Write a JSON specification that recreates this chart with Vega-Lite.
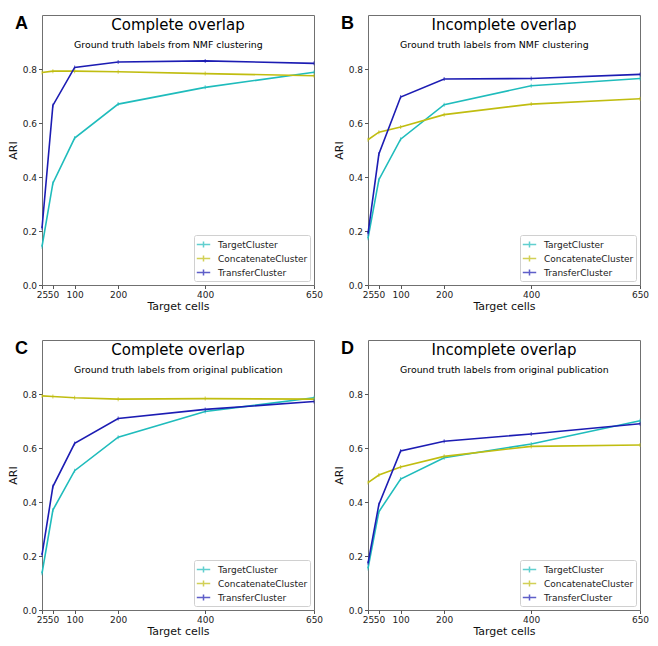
{
  "$schema": "https://vega.github.io/schema/vega-lite/v6.json",
  "background": "white",
  "padding": {"left": 6, "top": 14, "right": 5, "bottom": 5},
  "datasets": {
    "series": [
      {"panel": "A", "method": "TargetCluster", "cells": 25, "ari": 0.142},
      {"panel": "A", "method": "TargetCluster", "cells": 50, "ari": 0.377},
      {"panel": "A", "method": "TargetCluster", "cells": 100, "ari": 0.544},
      {"panel": "A", "method": "TargetCluster", "cells": 200, "ari": 0.670},
      {"panel": "A", "method": "TargetCluster", "cells": 400, "ari": 0.732},
      {"panel": "A", "method": "TargetCluster", "cells": 650, "ari": 0.788},
      {"panel": "A", "method": "ConcatenateCluster", "cells": 25, "ari": 0.787},
      {"panel": "A", "method": "ConcatenateCluster", "cells": 50, "ari": 0.792},
      {"panel": "A", "method": "ConcatenateCluster", "cells": 100, "ari": 0.792},
      {"panel": "A", "method": "ConcatenateCluster", "cells": 200, "ari": 0.790},
      {"panel": "A", "method": "ConcatenateCluster", "cells": 400, "ari": 0.783},
      {"panel": "A", "method": "ConcatenateCluster", "cells": 650, "ari": 0.775},
      {"panel": "A", "method": "TransferCluster", "cells": 25, "ari": 0.21},
      {"panel": "A", "method": "TransferCluster", "cells": 50, "ari": 0.665},
      {"panel": "A", "method": "TransferCluster", "cells": 100, "ari": 0.806},
      {"panel": "A", "method": "TransferCluster", "cells": 200, "ari": 0.826},
      {"panel": "A", "method": "TransferCluster", "cells": 400, "ari": 0.830},
      {"panel": "A", "method": "TransferCluster", "cells": 650, "ari": 0.821},
      {"panel": "B", "method": "TargetCluster", "cells": 25, "ari": 0.173},
      {"panel": "B", "method": "TargetCluster", "cells": 50, "ari": 0.39},
      {"panel": "B", "method": "TargetCluster", "cells": 100, "ari": 0.540},
      {"panel": "B", "method": "TargetCluster", "cells": 200, "ari": 0.668},
      {"panel": "B", "method": "TargetCluster", "cells": 400, "ari": 0.738},
      {"panel": "B", "method": "TargetCluster", "cells": 650, "ari": 0.765},
      {"panel": "B", "method": "ConcatenateCluster", "cells": 25, "ari": 0.538},
      {"panel": "B", "method": "ConcatenateCluster", "cells": 50, "ari": 0.566},
      {"panel": "B", "method": "ConcatenateCluster", "cells": 100, "ari": 0.585},
      {"panel": "B", "method": "ConcatenateCluster", "cells": 200, "ari": 0.631},
      {"panel": "B", "method": "ConcatenateCluster", "cells": 400, "ari": 0.670},
      {"panel": "B", "method": "ConcatenateCluster", "cells": 650, "ari": 0.690},
      {"panel": "B", "method": "TransferCluster", "cells": 25, "ari": 0.19},
      {"panel": "B", "method": "TransferCluster", "cells": 50, "ari": 0.485},
      {"panel": "B", "method": "TransferCluster", "cells": 100, "ari": 0.696},
      {"panel": "B", "method": "TransferCluster", "cells": 200, "ari": 0.763},
      {"panel": "B", "method": "TransferCluster", "cells": 400, "ari": 0.765},
      {"panel": "B", "method": "TransferCluster", "cells": 650, "ari": 0.780},
      {"panel": "C", "method": "TargetCluster", "cells": 25, "ari": 0.136},
      {"panel": "C", "method": "TargetCluster", "cells": 50, "ari": 0.370},
      {"panel": "C", "method": "TargetCluster", "cells": 100, "ari": 0.516},
      {"panel": "C", "method": "TargetCluster", "cells": 200, "ari": 0.640},
      {"panel": "C", "method": "TargetCluster", "cells": 400, "ari": 0.735},
      {"panel": "C", "method": "TargetCluster", "cells": 650, "ari": 0.786},
      {"panel": "C", "method": "ConcatenateCluster", "cells": 25, "ari": 0.793},
      {"panel": "C", "method": "ConcatenateCluster", "cells": 50, "ari": 0.791},
      {"panel": "C", "method": "ConcatenateCluster", "cells": 100, "ari": 0.786},
      {"panel": "C", "method": "ConcatenateCluster", "cells": 200, "ari": 0.781},
      {"panel": "C", "method": "ConcatenateCluster", "cells": 400, "ari": 0.783},
      {"panel": "C", "method": "ConcatenateCluster", "cells": 650, "ari": 0.781},
      {"panel": "C", "method": "TransferCluster", "cells": 25, "ari": 0.204},
      {"panel": "C", "method": "TransferCluster", "cells": 50, "ari": 0.457},
      {"panel": "C", "method": "TransferCluster", "cells": 100, "ari": 0.617},
      {"panel": "C", "method": "TransferCluster", "cells": 200, "ari": 0.709},
      {"panel": "C", "method": "TransferCluster", "cells": 400, "ari": 0.743},
      {"panel": "C", "method": "TransferCluster", "cells": 650, "ari": 0.772},
      {"panel": "D", "method": "TargetCluster", "cells": 25, "ari": 0.154},
      {"panel": "D", "method": "TargetCluster", "cells": 50, "ari": 0.364},
      {"panel": "D", "method": "TargetCluster", "cells": 100, "ari": 0.485},
      {"panel": "D", "method": "TargetCluster", "cells": 200, "ari": 0.564},
      {"panel": "D", "method": "TargetCluster", "cells": 400, "ari": 0.615},
      {"panel": "D", "method": "TargetCluster", "cells": 650, "ari": 0.701},
      {"panel": "D", "method": "ConcatenateCluster", "cells": 25, "ari": 0.472},
      {"panel": "D", "method": "ConcatenateCluster", "cells": 50, "ari": 0.500},
      {"panel": "D", "method": "ConcatenateCluster", "cells": 100, "ari": 0.530},
      {"panel": "D", "method": "ConcatenateCluster", "cells": 200, "ari": 0.569},
      {"panel": "D", "method": "ConcatenateCluster", "cells": 400, "ari": 0.606},
      {"panel": "D", "method": "ConcatenateCluster", "cells": 650, "ari": 0.611},
      {"panel": "D", "method": "TransferCluster", "cells": 25, "ari": 0.173},
      {"panel": "D", "method": "TransferCluster", "cells": 50, "ari": 0.391},
      {"panel": "D", "method": "TransferCluster", "cells": 100, "ari": 0.589},
      {"panel": "D", "method": "TransferCluster", "cells": 200, "ari": 0.625},
      {"panel": "D", "method": "TransferCluster", "cells": 400, "ari": 0.652},
      {"panel": "D", "method": "TransferCluster", "cells": 650, "ari": 0.690}
    ],
    "panels": [
      {"panel": "A", "letter": "A", "title": "Complete overlap", "subtitle": "Ground truth labels from NMF clustering"},
      {"panel": "B", "letter": "B", "title": "Incomplete overlap", "subtitle": "Ground truth labels from NMF clustering"},
      {"panel": "C", "letter": "C", "title": "Complete overlap", "subtitle": "Ground truth labels from original publication"},
      {"panel": "D", "letter": "D", "title": "Incomplete overlap", "subtitle": "Ground truth labels from original publication"}
    ]
  },
  "concat": [
    {
      "width": 272, "height": 270,
      "layer": [
        {"data": {"name": "series"}, "transform": [{"filter": "datum.panel === 'A'"}],
         "mark": {"type": "line", "strokeWidth": 1.6},
         "encoding": {
           "x": {"field": "cells", "type": "quantitative", "scale": {"domain": [25, 650], "nice": false, "zero": false}, "axis": {"values": [25, 50, 100, 200, 400, 650], "title": "Target cells"}},
           "y": {"field": "ari", "type": "quantitative", "scale": {"domain": [0, 1], "nice": false}, "axis": {"values": [0, 0.2, 0.4, 0.6, 0.8], "format": ".1f", "title": "ARI"}},
           "color": {"field": "method", "type": "nominal", "scale": {"domain": ["TargetCluster", "ConcatenateCluster", "TransferCluster"], "range": ["#1fbcbc", "#c0bd10", "#1c1cb3"]}}
         }},
        {"data": {"name": "series"}, "transform": [{"filter": "datum.panel === 'A'"}],
         "mark": {"type": "tick", "orient": "vertical", "size": 4, "thickness": 1},
         "encoding": {
           "x": {"field": "cells", "type": "quantitative"},
           "y": {"field": "ari", "type": "quantitative"},
           "color": {"field": "method", "type": "nominal"}
         }},
        {"data": {"name": "panels"}, "transform": [{"filter": "datum.panel === 'A'"}],
         "mark": {"type": "text", "font": "DejaVu Sans", "fontSize": 15, "align": "center", "baseline": "alphabetic"},
         "encoding": {"x": {"datum": 337.5, "type": "quantitative"}, "y": {"datum": 0.944, "type": "quantitative"}, "text": {"field": "title"}}},
        {"data": {"name": "panels"}, "transform": [{"filter": "datum.panel === 'A'"}],
         "mark": {"type": "text", "font": "DejaVu Sans", "fontSize": 9.4, "align": "left", "baseline": "alphabetic"},
         "encoding": {"x": {"datum": 98.5, "type": "quantitative"}, "y": {"datum": 0.878, "type": "quantitative"}, "text": {"field": "subtitle"}}},
        {"data": {"name": "panels"}, "transform": [{"filter": "datum.panel === 'A'"}],
         "mark": {"type": "text", "font": "Liberation Sans", "fontWeight": "bold", "fontSize": 18, "align": "left", "baseline": "alphabetic", "dx": -27, "dy": 14},
         "encoding": {"x": {"datum": 25, "type": "quantitative"}, "y": {"datum": 1, "type": "quantitative"}, "text": {"field": "letter"}}}
      ]
    },
    {
      "width": 272, "height": 270,
      "layer": [
        {"data": {"name": "series"}, "transform": [{"filter": "datum.panel === 'B'"}],
         "mark": {"type": "line", "strokeWidth": 1.6},
         "encoding": {
           "x": {"field": "cells", "type": "quantitative", "scale": {"domain": [25, 650], "nice": false, "zero": false}, "axis": {"values": [25, 50, 100, 200, 400, 650], "title": "Target cells"}},
           "y": {"field": "ari", "type": "quantitative", "scale": {"domain": [0, 1], "nice": false}, "axis": {"values": [0, 0.2, 0.4, 0.6, 0.8], "format": ".1f", "title": "ARI"}},
           "color": {"field": "method", "type": "nominal", "scale": {"domain": ["TargetCluster", "ConcatenateCluster", "TransferCluster"], "range": ["#1fbcbc", "#c0bd10", "#1c1cb3"]}}
         }},
        {"data": {"name": "series"}, "transform": [{"filter": "datum.panel === 'B'"}],
         "mark": {"type": "tick", "orient": "vertical", "size": 4, "thickness": 1},
         "encoding": {
           "x": {"field": "cells", "type": "quantitative"},
           "y": {"field": "ari", "type": "quantitative"},
           "color": {"field": "method", "type": "nominal"}
         }},
        {"data": {"name": "panels"}, "transform": [{"filter": "datum.panel === 'B'"}],
         "mark": {"type": "text", "font": "DejaVu Sans", "fontSize": 15, "align": "center", "baseline": "alphabetic"},
         "encoding": {"x": {"datum": 337.5, "type": "quantitative"}, "y": {"datum": 0.944, "type": "quantitative"}, "text": {"field": "title"}}},
        {"data": {"name": "panels"}, "transform": [{"filter": "datum.panel === 'B'"}],
         "mark": {"type": "text", "font": "DejaVu Sans", "fontSize": 9.4, "align": "left", "baseline": "alphabetic"},
         "encoding": {"x": {"datum": 98.5, "type": "quantitative"}, "y": {"datum": 0.878, "type": "quantitative"}, "text": {"field": "subtitle"}}},
        {"data": {"name": "panels"}, "transform": [{"filter": "datum.panel === 'B'"}],
         "mark": {"type": "text", "font": "Liberation Sans", "fontWeight": "bold", "fontSize": 18, "align": "left", "baseline": "alphabetic", "dx": -27, "dy": 14},
         "encoding": {"x": {"datum": 25, "type": "quantitative"}, "y": {"datum": 1, "type": "quantitative"}, "text": {"field": "letter"}}}
      ]
    },
    {
      "width": 272, "height": 270,
      "layer": [
        {"data": {"name": "series"}, "transform": [{"filter": "datum.panel === 'C'"}],
         "mark": {"type": "line", "strokeWidth": 1.6},
         "encoding": {
           "x": {"field": "cells", "type": "quantitative", "scale": {"domain": [25, 650], "nice": false, "zero": false}, "axis": {"values": [25, 50, 100, 200, 400, 650], "title": "Target cells"}},
           "y": {"field": "ari", "type": "quantitative", "scale": {"domain": [0, 1], "nice": false}, "axis": {"values": [0, 0.2, 0.4, 0.6, 0.8], "format": ".1f", "title": "ARI"}},
           "color": {"field": "method", "type": "nominal", "scale": {"domain": ["TargetCluster", "ConcatenateCluster", "TransferCluster"], "range": ["#1fbcbc", "#c0bd10", "#1c1cb3"]}}
         }},
        {"data": {"name": "series"}, "transform": [{"filter": "datum.panel === 'C'"}],
         "mark": {"type": "tick", "orient": "vertical", "size": 4, "thickness": 1},
         "encoding": {
           "x": {"field": "cells", "type": "quantitative"},
           "y": {"field": "ari", "type": "quantitative"},
           "color": {"field": "method", "type": "nominal"}
         }},
        {"data": {"name": "panels"}, "transform": [{"filter": "datum.panel === 'C'"}],
         "mark": {"type": "text", "font": "DejaVu Sans", "fontSize": 15, "align": "center", "baseline": "alphabetic"},
         "encoding": {"x": {"datum": 337.5, "type": "quantitative"}, "y": {"datum": 0.944, "type": "quantitative"}, "text": {"field": "title"}}},
        {"data": {"name": "panels"}, "transform": [{"filter": "datum.panel === 'C'"}],
         "mark": {"type": "text", "font": "DejaVu Sans", "fontSize": 9.4, "align": "left", "baseline": "alphabetic"},
         "encoding": {"x": {"datum": 98.5, "type": "quantitative"}, "y": {"datum": 0.878, "type": "quantitative"}, "text": {"field": "subtitle"}}},
        {"data": {"name": "panels"}, "transform": [{"filter": "datum.panel === 'C'"}],
         "mark": {"type": "text", "font": "Liberation Sans", "fontWeight": "bold", "fontSize": 18, "align": "left", "baseline": "alphabetic", "dx": -27, "dy": 14},
         "encoding": {"x": {"datum": 25, "type": "quantitative"}, "y": {"datum": 1, "type": "quantitative"}, "text": {"field": "letter"}}}
      ]
    },
    {
      "width": 272, "height": 270,
      "layer": [
        {"data": {"name": "series"}, "transform": [{"filter": "datum.panel === 'D'"}],
         "mark": {"type": "line", "strokeWidth": 1.6},
         "encoding": {
           "x": {"field": "cells", "type": "quantitative", "scale": {"domain": [25, 650], "nice": false, "zero": false}, "axis": {"values": [25, 50, 100, 200, 400, 650], "title": "Target cells"}},
           "y": {"field": "ari", "type": "quantitative", "scale": {"domain": [0, 1], "nice": false}, "axis": {"values": [0, 0.2, 0.4, 0.6, 0.8], "format": ".1f", "title": "ARI"}},
           "color": {"field": "method", "type": "nominal", "scale": {"domain": ["TargetCluster", "ConcatenateCluster", "TransferCluster"], "range": ["#1fbcbc", "#c0bd10", "#1c1cb3"]}}
         }},
        {"data": {"name": "series"}, "transform": [{"filter": "datum.panel === 'D'"}],
         "mark": {"type": "tick", "orient": "vertical", "size": 4, "thickness": 1},
         "encoding": {
           "x": {"field": "cells", "type": "quantitative"},
           "y": {"field": "ari", "type": "quantitative"},
           "color": {"field": "method", "type": "nominal"}
         }},
        {"data": {"name": "panels"}, "transform": [{"filter": "datum.panel === 'D'"}],
         "mark": {"type": "text", "font": "DejaVu Sans", "fontSize": 15, "align": "center", "baseline": "alphabetic"},
         "encoding": {"x": {"datum": 337.5, "type": "quantitative"}, "y": {"datum": 0.944, "type": "quantitative"}, "text": {"field": "title"}}},
        {"data": {"name": "panels"}, "transform": [{"filter": "datum.panel === 'D'"}],
         "mark": {"type": "text", "font": "DejaVu Sans", "fontSize": 9.4, "align": "left", "baseline": "alphabetic"},
         "encoding": {"x": {"datum": 98.5, "type": "quantitative"}, "y": {"datum": 0.878, "type": "quantitative"}, "text": {"field": "subtitle"}}},
        {"data": {"name": "panels"}, "transform": [{"filter": "datum.panel === 'D'"}],
         "mark": {"type": "text", "font": "Liberation Sans", "fontWeight": "bold", "fontSize": 18, "align": "left", "baseline": "alphabetic", "dx": -27, "dy": 14},
         "encoding": {"x": {"datum": 25, "type": "quantitative"}, "y": {"datum": 1, "type": "quantitative"}, "text": {"field": "letter"}}}
      ]
    }
  ],
  "columns": 2,
  "spacing": {"row": 55, "column": 54},
  "bounds": "flush",
  "resolve": {"scale": {"color": "independent", "x": "independent", "y": "independent"}, "legend": {"color": "independent"}},
  "config": {
    "view": {"stroke": "#707070", "strokeWidth": 1},
    "axis": {
      "grid": false,
      "domain": false,
      "labelFont": "DejaVu Sans",
      "labelFontSize": 9,
      "labelColor": "#222222",
      "labelPadding": 2,
      "labelOverlap": false,
      "labelFlush": false,
      "tickSize": 3.5,
      "tickColor": "#555555",
      "titleFont": "DejaVu Sans",
      "titleFontSize": 11,
      "titleFontWeight": "normal",
      "titleColor": "#111111"
    },
    "axisX": {"titlePadding": 1},
    "axisY": {"titlePadding": 4},
    "legend": {
      "orient": "bottom-right",
      "offset": 4,
      "title": null,
      "padding": 2,
      "strokeColor": "#d0d0d0",
      "fillColor": "white",
      "cornerRadius": 2,
      "labelFont": "DejaVu Sans",
      "labelFontSize": 9,
      "labelColor": "#222222",
      "symbolType": "M-1,0L1,0M0,-0.45L0,0.45",
      "symbolSize": 180,
      "symbolStrokeWidth": 1.5,
      "rowPadding": 0,
      "labelOffset": 7
    }
  }
}
